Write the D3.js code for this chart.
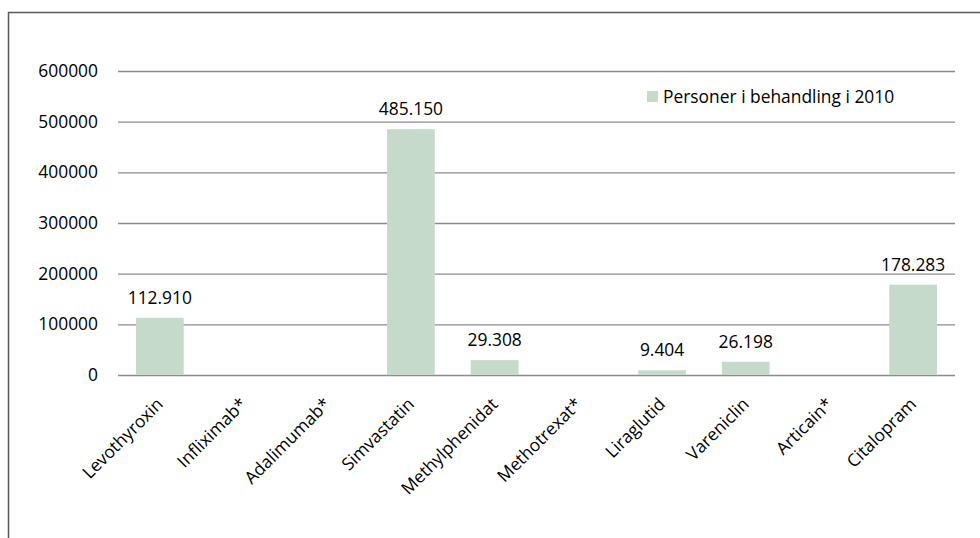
<!DOCTYPE html>
<html>
<head>
<meta charset="utf-8">
<script src="https://cdn.jsdelivr.net/npm/d3@7"></script>
<style>
  html, body { margin: 0; padding: 0; background: #fff; }
  svg { display: block; font-family: "Open Sans", "Liberation Sans", sans-serif; }
</style>
</head>
<body>
<svg id="chart" width="980" height="538"></svg>
<script>
// Drug names along the x axis
const categories = ["Levothyroxin", "Infliximab*", "Adalimumab*", "Simvastatin", "Methylphenidat",
                    "Methotrexat*", "Liraglutid", "Vareniclin", "Articain*", "Citalopram"];
// Persons in treatment in 2010 (null = no figure)
const values = [112910, null, null, 485150, 29308, null, 9404, 26198, null, 178283];
// y-axis ticks
const yTicks = [0, 100000, 200000, 300000, 400000, 500000, 600000];
const seriesName = "Personer i behandling i 2010";

const svg = d3.select("#chart");
const plotLeft = 118, plotRight = 955, plotTop = 71, plotBottom = 375;
const textColor = "#000";
const fontSize = "17.4px";

// outer frame
svg.append("rect")
  .attr("x", 8.5).attr("y", 12.5)
  .attr("width", 1000).attr("height", 600)
  .attr("fill", "none").attr("stroke", "#595959").attr("stroke-width", 1.5);

const x = d3.scaleBand().domain(categories).range([plotLeft, plotRight]).paddingInner(0.43).paddingOuter(0.215);
const y = d3.scaleLinear().domain([0, 600000]).range([plotBottom, plotTop]);

// gridlines + tick labels
const yAxis = d3.axisLeft(y).tickValues(yTicks).tickSize(-(plotRight - plotLeft)).tickPadding(20)
  .tickFormat(d3.format("d"));
const gy = svg.append("g").attr("transform", `translate(${plotLeft},0)`).call(yAxis);
gy.select(".domain").remove();
gy.selectAll(".tick line").attr("stroke", "#8c8c8c").attr("stroke-width", 1.3);
gy.selectAll(".tick text").attr("fill", textColor).style("font-size", fontSize)
  .style("font-family", "'Open Sans', sans-serif");

// bars
const data = categories.map((c, i) => ({ c, v: values[i] })).filter(d => d.v != null);
svg.append("g").selectAll("rect").data(data).join("rect")
  .attr("x", d => x(d.c))
  .attr("y", d => y(d.v))
  .attr("width", x.bandwidth())
  .attr("height", d => y(0) - y(d.v))
  .attr("fill", "#c6dacb");

// value labels
const fmt = v => d3.format(",")(v).replace(/,/g, ".");
svg.append("g").selectAll("text").data(data).join("text")
  .attr("x", d => x(d.c) + x.bandwidth() / 2)
  .attr("y", d => y(d.v) - 14)
  .attr("text-anchor", "middle")
  .attr("fill", textColor)
  .style("font-size", fontSize)
  .text(d => fmt(d.v));

// rotated category labels
svg.append("g").selectAll("text").data(categories).join("text")
  .attr("transform", d => `translate(${x(d) + x.bandwidth() / 2},${plotBottom + 26}) rotate(-45)`)
  .attr("text-anchor", "end")
  .attr("dy", "0.35em")
  .attr("fill", textColor)
  .style("font-size", fontSize)
  .text(d => d);

// legend
const lg = svg.append("g").attr("transform", "translate(647,91)");
lg.append("rect").attr("width", 11).attr("height", 11).attr("fill", "#c6dacb");
lg.append("text").attr("x", 16).attr("y", 11.5).attr("fill", textColor)
  .style("font-size", fontSize).text(seriesName);
</script>
</body>
</html>
